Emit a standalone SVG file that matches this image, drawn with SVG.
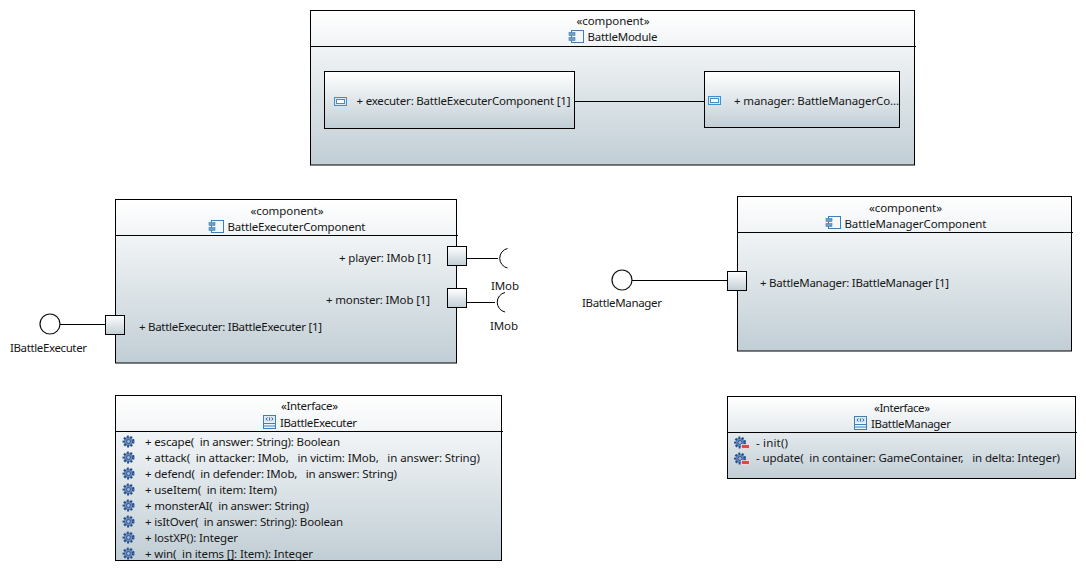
<svg xmlns="http://www.w3.org/2000/svg" width="1086" height="571" viewBox="0 0 1086 571">
<style>
text{font-family:"Noto Sans","Open Sans","DejaVu Sans",sans-serif;font-size:11.5px;fill:#161616;white-space:pre}
.box{fill:url(#g);stroke:#000;stroke-width:1}
.ln{stroke:#000;stroke-width:1;fill:none}
.c{fill:none;stroke:#000;stroke-width:1}
.iface{fill:#fff;stroke:#111;stroke-width:1.2}
</style>
<defs>
<linearGradient id="g" x1="0" y1="0" x2="0" y2="1"><stop offset="0" stop-color="#ffffff"/><stop offset="1" stop-color="#c1ced5"/></linearGradient>
<g id="comp"><rect x="2.500" y="0.500" width="12" height="12" fill="#f4f8fb" stroke="#3f7fb5"/><rect x="0" y="2.500" width="6" height="3" fill="#6f9dc4" stroke="#3f7fb5" stroke-width=".6"/><rect x="0" y="7.500" width="6" height="3" fill="#6f9dc4" stroke="#3f7fb5" stroke-width=".6"/></g>
<g id="part"><rect x="0.500" y="0.500" width="12" height="8" fill="#dbe9f4" stroke="#3f8fc8"/><rect x="2.500" y="2.500" width="8" height="4" fill="#fff" stroke="#3f8fc8"/></g>
<g id="int"><rect x="0.500" y="0.500" width="12" height="13" fill="#eef5fa" stroke="#3f7fb5"/><rect x="1.500" y="1.500" width="10" height="5" fill="#cfe2f1"/><path d="M1 8.500H12M1 11H12" stroke="#3f7fb5"/><path d="M4.500 2.500L3 4l1.500 1.500M8.500 2.500L10 4 8.500 5.500M6.500 2.500V5.500" fill="none" stroke="#27557f" stroke-width=".8"/></g>
<g id="gear"><circle r="4.800" fill="#6f8dbd" stroke="#24508f" stroke-width="2.400" stroke-dasharray="1.900 1.500"/><circle r="2" fill="#9db6d8" stroke="#24477f" stroke-width=".8"/></g>
<g id="gearm"><use href="#gear" x="6.500" y="6.500"/><rect x="8" y="8.500" width="8" height="4" fill="#d94a4a" stroke="#fff" stroke-width=".6"/></g>
</defs>
<rect width="1086" height="571" fill="#fff"/>

<g id="BattleModule">
<rect class="box" x="310.500" y="10.500" width="604" height="154.500"/>
<path class="ln" d="M311 46.500H916"/>
<text x="576.500" y="25" textLength="73">«component»</text>
<use href="#comp" x="569" y="30"/>
<text x="587.500" y="41" textLength="70">BattleModule</text>
</g>
<g id="executer">
<rect class="box" x="324.500" y="71.500" width="250" height="57"/>
<use href="#part" x="334" y="97"/>
<text x="356.500" y="105" textLength="214">+ executer: BattleExecuterComponent [1]</text>
</g>
<g id="manager">
<rect class="box" x="704.500" y="71.500" width="195" height="56"/>
<use href="#part" x="708" y="96"/>
<text x="734" y="105" textLength="165">+ manager: BattleManagerCo...</text>
</g>

<g id="BattleExecuterComponent">
<rect class="box" x="115.500" y="199.500" width="341" height="163.500"/>
<path class="ln" d="M116 235.500H458"/>
<text x="250.500" y="215" textLength="73">«component»</text>
<use href="#comp" x="209" y="220"/>
<text x="227.500" y="231" textLength="138">BattleExecuterComponent</text>
<text x="339" y="262" textLength="92">+ player: IMob [1]</text>
<text x="326" y="304" textLength="104">+ monster: IMob [1]</text>
<text x="139" y="331" textLength="183">+ BattleExecuter: IBattleExecuter [1]</text>
</g>
<g id="port-player"><rect class="box" x="447.500" y="246.500" width="19" height="19"/></g>
<g id="port-monster"><rect class="box" x="447.500" y="288.500" width="19" height="19"/></g>
<g id="port-BattleExecuter"><rect class="box" x="105.500" y="315.500" width="19" height="19"/></g>
<g id="IBattleExecuter-provided">
<circle class="iface" cx="50" cy="324" r="10"/>
<text x="10" y="352" textLength="77">IBattleExecuter</text>
</g>
<g id="IMob-player">
<path class="c" d="M507.500 248.500A10 10 0 0 0 507.500 268"/>
<text x="491" y="290" textLength="28">IMob</text>
</g>
<g id="IMob-monster">
<path class="c" d="M505 292.500A10 10 0 0 0 505 312"/>
<text x="490" y="330" textLength="28">IMob</text>
</g>

<g id="BattleManagerComponent">
<rect class="box" x="737.500" y="196.500" width="334" height="154.500"/>
<path class="ln" d="M738 232.500H1073"/>
<text x="869" y="212" textLength="73">«component»</text>
<use href="#comp" x="826" y="216"/>
<text x="844.500" y="228" textLength="142">BattleManagerComponent</text>
<text x="760" y="287" textLength="189">+ BattleManager: IBattleManager [1]</text>
</g>
<g id="port-BattleManager"><rect class="box" x="727.500" y="271.500" width="19" height="19"/></g>
<g id="IBattleManager-provided">
<circle class="iface" cx="622" cy="280" r="10"/>
<text x="582" y="307" textLength="80">IBattleManager</text>
</g>

<g id="IBattleExecuter">
<rect class="box" x="115.500" y="395.500" width="386" height="165"/>
<path class="ln" d="M116 431.500H503"/>
<text x="281" y="410" textLength="57">«Interface»</text>
<use href="#int" x="263" y="415"/>
<text x="280" y="427" textLength="77">IBattleExecuter</text>
<use href="#gear" x="128.500" y="441.500"/><text x="145" y="446" textLength="195">+ escape(  in answer: String): Boolean</text>
<use href="#gear" x="128.500" y="457.500"/><text x="145" y="462" textLength="335">+ attack(  in attacker: IMob,   in victim: IMob,   in answer: String)</text>
<use href="#gear" x="128.500" y="473.500"/><text x="145" y="478" textLength="252">+ defend(  in defender: IMob,   in answer: String)</text>
<use href="#gear" x="128.500" y="489.500"/><text x="145" y="494" textLength="132">+ useItem(  in item: Item)</text>
<use href="#gear" x="128.500" y="505.500"/><text x="145" y="510" textLength="164">+ monsterAI(  in answer: String)</text>
<use href="#gear" x="128.500" y="521.500"/><text x="145" y="526" textLength="198">+ isItOver(  in answer: String): Boolean</text>
<use href="#gear" x="128.500" y="537.500"/><text x="145" y="542" textLength="93">+ lostXP(): Integer</text>
<use href="#gear" x="128.500" y="553.500"/><text x="145" y="558" textLength="168">+ win(  in items []: Item): Integer</text>
</g>

<g id="IBattleManager">
<rect class="box" x="727.500" y="396.500" width="348" height="82"/>
<path class="ln" d="M728 432.500H1077"/>
<text x="874" y="412" textLength="56">«Interface»</text>
<use href="#int" x="854" y="416"/>
<text x="871" y="428" textLength="80">IBattleManager</text>
<use href="#gearm" x="733.500" y="436"/><text x="756" y="446.500" textLength="32">- init()</text>
<use href="#gearm" x="733.500" y="452"/><text x="756" y="462" textLength="304">- update(  in container: GameContainer,   in delta: Integer)</text>
</g>

<g id="connectors">
<path class="c" d="M574.500 101.500H704.500"/>
<path class="c" d="M60 324.500H105.500"/>
<path class="c" d="M466.500 258.500H498"/>
<path class="c" d="M466.500 302.500H495"/>
<path class="c" d="M632 280.500H727.500"/>
</g>
</svg>
